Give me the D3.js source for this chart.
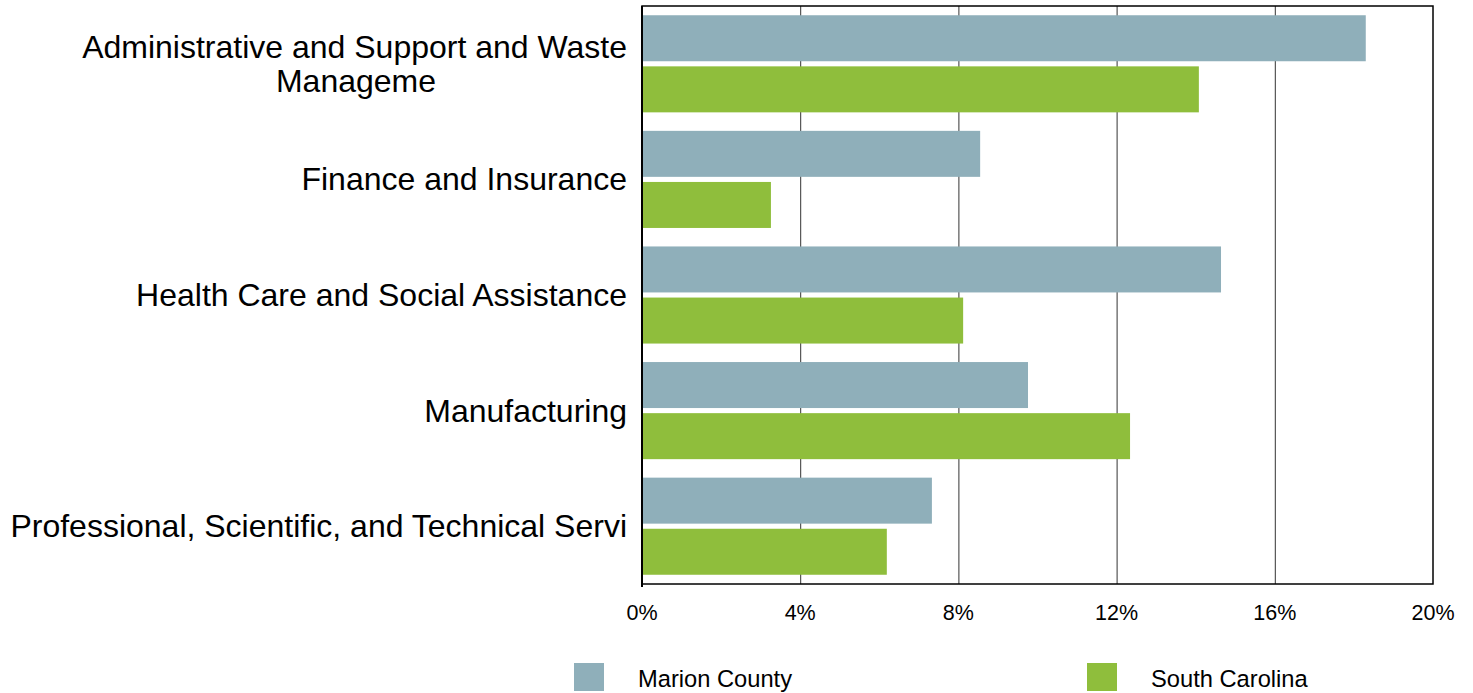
<!doctype html>
<html>
<head>
    <script src="https://d3js.org/d3.v7.min.js"></script>
    <style>
        body { margin: 0; background: #fff; }
        text { font-family: "Liberation Sans", Arial, sans-serif; fill: #000; }
    </style>
</head>
<body>

    <svg width="1473" height="693"></svg>

    <script>
        var categories = [
            'Administrative and Support and Waste Manageme',
            'Finance and Insurance',
            'Health Care and Social Assistance',
            'Manufacturing',
            'Professional, Scientific, and Technical Servi'
        ];
        // label lines as wrapped in the picture
        var labelLines = [
            ['Administrative and Support and Waste', 'Manageme'],
            ['Finance and Insurance'],
            ['Health Care and Social Assistance'],
            ['Manufacturing'],
            ['Professional, Scientific, and Technical Servi']
        ];
        var seriesNames = ['Marion County', 'South Carolina'];
        var marionValues = [18.3, 8.55, 14.64, 9.76, 7.33];
        var scValues = [14.08, 3.26, 8.12, 12.34, 6.19];
        var tickValues = [0, 4, 8, 12, 16, 20];

        var colors = ['#8fafba', '#8fbe3c'];

        var svg = d3.select("svg"),
            plotLeft = 642, plotRight = 1433, plotTop = 6, plotBottom = 584;

        var x = d3.scaleLinear().domain([0, 20]).range([plotLeft, plotRight]);
        var y = d3.scaleBand().domain(categories).range([plotTop, plotBottom]).paddingInner(0.16).paddingOuter(0.08);
        var ySub = d3.scaleBand().domain(seriesNames).range([0, y.bandwidth()]).paddingInner(0.1);

        // gridlines
        svg.append("g")
            .selectAll("line")
            .data(tickValues.slice(1, -1))
            .enter()
            .append("line")
            .attr("x1", d => x(d) + 0.5)
            .attr("x2", d => x(d) + 0.5)
            .attr("y1", plotTop)
            .attr("y2", plotBottom)
            .attr("stroke", "#333")
            .attr("stroke-width", 1);

        // bars
        var rows = categories.map((c, i) => ({cat: c, vals: [marionValues[i], scValues[i]]}));
        var groups = svg.append("g")
            .selectAll("g")
            .data(rows)
            .enter()
            .append("g")
            .attr("transform", d => "translate(0," + y(d.cat) + ")");

        groups.selectAll("rect")
            .data(d => d.vals.map((v, j) => ({name: seriesNames[j], value: v, j: j})))
            .enter()
            .append("rect")
            .attr("x", x(0))
            .attr("y", d => ySub(d.name))
            .attr("width", d => x(d.value) - x(0))
            .attr("height", ySub.bandwidth())
            .attr("fill", d => colors[d.j]);

        // frame
        svg.append("rect")
            .attr("x", plotLeft)
            .attr("y", plotTop)
            .attr("width", plotRight - plotLeft)
            .attr("height", plotBottom - plotTop)
            .attr("fill", "none")
            .attr("stroke", "#000")
            .attr("stroke-width", 1.5);
        svg.append("line")
            .attr("x1", plotLeft).attr("x2", plotLeft)
            .attr("y1", plotTop).attr("y2", plotBottom + 3)
            .attr("stroke", "#000")
            .attr("stroke-width", 2);

        // x axis labels
        svg.append("g")
            .selectAll("text")
            .data(tickValues)
            .enter()
            .append("text")
            .attr("x", d => x(d))
            .attr("y", 620)
            .attr("text-anchor", "middle")
            .style("font-size", "21.5px")
            .text(d => d + "%");

        // category labels
        var lab = svg.append("g")
            .selectAll("text")
            .data(categories)
            .enter()
            .append("text")
            .style("font-size", "32px")
            .attr("transform", (d, i) => {
                var n = labelLines[i].length;
                var cy = y(d) + y.bandwidth() / 2 - (n - 1) * 17 + 11;
                return "translate(627," + cy + ")";
            });
        lab.selectAll("tspan")
            .data((d, i) => labelLines[i])
            .enter()
            .append("tspan")
            .attr("x", (d, k) => k === 0 ? 0 : -271)
            .attr("dy", (d, k) => k === 0 ? 0 : 34)
            .attr("text-anchor", (d, k) => k === 0 ? "end" : "middle")
            .text(d => d);

        // legend
        var legendX = [574, 1087];
        var legend = svg.append("g")
            .selectAll("g")
            .data(seriesNames)
            .enter()
            .append("g")
            .attr("transform", (d, i) => "translate(" + legendX[i] + ",663)");
        legend.append("rect")
            .attr("width", 30)
            .attr("height", 28)
            .attr("fill", (d, i) => colors[i]);
        legend.append("text")
            .attr("x", 64)
            .attr("y", 24)
            .style("font-size", "23.7px")
            .text(d => d);
    </script>
</body>
</html>
